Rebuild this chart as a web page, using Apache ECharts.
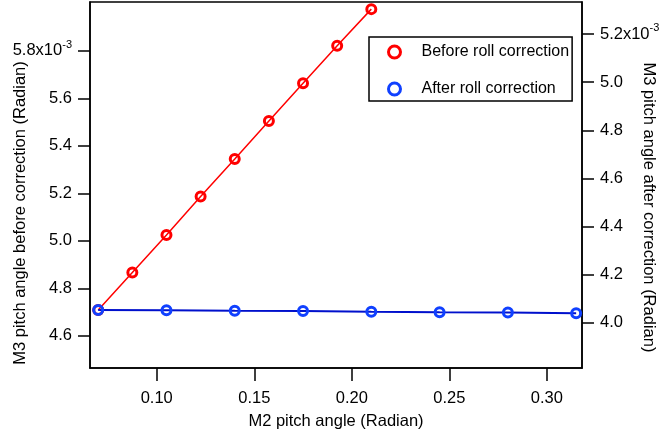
<!DOCTYPE html>
<html>
<head>
<meta charset="utf-8">
<script src="https://cdn.jsdelivr.net/npm/echarts@6/dist/echarts.min.js"></script>
<style>
  html, body { margin: 0; padding: 0; background: #fff; }
  #chart { width: 660px; height: 436px; }
</style>
</head>
<body>
<div id="chart"></div>
<script>
// values (y in units of 1e-3 rad)
const beforeX = [0.07, 0.0875, 0.105, 0.1225, 0.14, 0.1575, 0.175, 0.1925, 0.21];
const beforeY = [4.709, 4.867, 5.025, 5.187, 5.345, 5.505, 5.664, 5.822, 5.976];
const afterX = [0.07, 0.105, 0.14, 0.175, 0.21, 0.245, 0.28, 0.315];
const afterY = [4.053, 4.052, 4.050, 4.049, 4.046, 4.044, 4.043, 4.040];

const xTicks = [0.10, 0.15, 0.20, 0.25, 0.30];
const leftTicks = [4.6, 4.8, 5.0, 5.2, 5.4, 5.6, 5.8];
const rightTicks = [4.0, 4.2, 4.4, 4.6, 4.8, 5.0, 5.2];

const font = 'Liberation Sans, Arial, sans-serif';
const black = '#000';

function pairs(xs, ys) {
  return xs.map((x, i) => [x, ys[i]]);
}

function expLabel(top) {
  return function (v) {
    const s = v.toFixed(1);
    if (Math.abs(v - top) < 1e-9) return '{b|' + s + 'x10}{s|-3}';
    return '{b|' + s + '}';
  };
}

const rich = {
  b: { fontSize: 16.5, fontFamily: font, color: black },
  s: { fontSize: 11, fontFamily: font, color: black, padding: [0, 0, 12, 0] }
};

const chart = echarts.init(document.getElementById('chart'));

const option = {
  animation: false,
  backgroundColor: '#fff',
  grid: {
    left: 90, right: 78, top: 2, bottom: 68,
    containLabel: false,
    outerBoundsMode: 'none',
    show: true, borderColor: black, borderWidth: 1.5
  },
  legend: {
    left: 369, top: 37,
    orient: 'vertical',
    padding: [7, 3, 4, 18],
    itemGap: 21,
    itemWidth: 12, itemHeight: 12,
    borderColor: black, borderWidth: 1.5,
    backgroundColor: '#fff',
    textStyle: { fontSize: 16, fontFamily: font, color: black, padding: [0, 0, 0, 16], lineHeight: 16 },
    data: [
      { name: 'Before roll correction', icon: 'circle',
        itemStyle: { color: '#fff', borderColor: '#ff0000', borderWidth: 3 } },
      { name: 'After roll correction', icon: 'circle',
        itemStyle: { color: '#fff', borderColor: '#1040ff', borderWidth: 3 } }
    ]
  },
  xAxis: {
    type: 'value',
    min: 0.0658, max: 0.318,
    name: 'M2 pitch angle (Radian)',
    nameLocation: 'middle',
    nameGap: 45,
    nameMoveOverlap: false,
    nameTextStyle: { fontSize: 16.5, fontFamily: font, color: black },
    axisLine: { show: true, lineStyle: { color: black, width: 1.5 } },
    axisTick: { show: true, inside: false, length: 13, customValues: xTicks, lineStyle: { color: black, width: 1.5 } },
    axisLabel: {
      customValues: xTicks, margin: 22,
      fontSize: 16.5, fontFamily: font, color: black,
      formatter: v => v.toFixed(2)
    },
    splitLine: { show: false }
  },
  yAxis: [
    {
      type: 'value',
      position: 'left',
      min: 4.465, max: 6.006,
      name: 'M3 pitch angle before correction (Radian)',
      nameLocation: 'middle',
      nameGap: 61,
      nameMoveOverlap: false,
      nameTextStyle: { fontSize: 16.5, fontFamily: font, color: black, padding: [0, 56, 0, 0] },
      axisLine: { show: true, lineStyle: { color: black, width: 1.5 } },
      axisTick: { show: true, length: 12, customValues: leftTicks, lineStyle: { color: black, width: 1.5 } },
      axisLabel: { customValues: leftTicks, margin: 18, formatter: expLabel(5.8), rich: rich },
      splitLine: { show: false }
    },
    {
      type: 'value',
      position: 'right',
      min: 3.812, max: 5.333,
      name: 'M3 pitch angle after correction (Radian)',
      nameLocation: 'middle',
      nameRotate: -90,
      nameGap: 58,
      nameMoveOverlap: false,
      nameTextStyle: { fontSize: 16.5, fontFamily: font, color: black, padding: [0, 0, 0, 45] },
      axisLine: { show: true, lineStyle: { color: black, width: 1.5 } },
      axisTick: { show: true, length: 12, customValues: rightTicks, lineStyle: { color: black, width: 1.5 } },
      axisLabel: { customValues: rightTicks, margin: 18, formatter: expLabel(5.2), rich: rich },
      splitLine: { show: false }
    }
  ],
  series: [
    {
      name: 'After roll correction',
      type: 'line',
      yAxisIndex: 1,
      data: pairs(afterX, afterY),
      symbol: 'circle',
      symbolSize: 9,
      lineStyle: { color: '#0010cc', width: 2 },
      itemStyle: { color: 'transparent', borderColor: '#1040ff', borderWidth: 3 },
      z: 3
    },
    {
      name: 'Before roll correction',
      type: 'line',
      yAxisIndex: 0,
      data: pairs(beforeX, beforeY),
      symbol: 'circle',
      symbolSize: 9,
      lineStyle: { color: '#ff0000', width: 1.5 },
      itemStyle: { color: 'transparent', borderColor: '#ff0000', borderWidth: 3 },
      z: 2
    }
  ]
};

chart.setOption(option);
</script>
</body>
</html>
